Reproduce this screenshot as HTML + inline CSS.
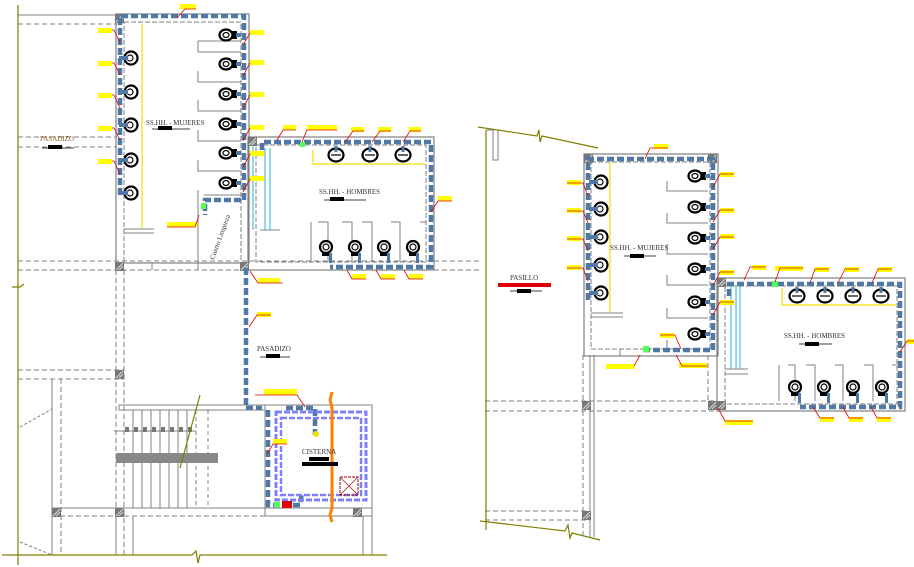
<!DOCTYPE html>
<html><head><meta charset="utf-8"><style>
html,body{margin:0;padding:0;background:#fff;}
svg{display:block;}
text{font-family:"Liberation Serif",serif;}
</style></head><body>
<svg width="914" height="567" viewBox="0 0 914 567" xmlns="http://www.w3.org/2000/svg">
<defs>
<g id="lav"><circle cx="0" cy="0" r="6.5" fill="#fff" stroke="#000" stroke-width="2.2"/><circle cx="-1" cy="0" r="3" fill="none" stroke="#000" stroke-width="1.2"/><rect x="-12" y="-2" width="9" height="4" fill="#4f79a4"/></g>
<g id="wc"><ellipse cx="0" cy="0" rx="6.5" ry="5.5" fill="#fff" stroke="#000" stroke-width="2.2"/><ellipse cx="0" cy="0" rx="3" ry="2.5" fill="none" stroke="#000" stroke-width="1.2"/><rect x="6" y="-4" width="5" height="8" fill="#000"/><rect x="10" y="-2" width="5" height="4" fill="#4f79a4"/></g>
<g id="sink"><ellipse cx="0" cy="0" rx="7.5" ry="6.5" fill="#fff" stroke="#000" stroke-width="2.2"/><line x1="-5" y1="0" x2="5" y2="0" stroke="#000" stroke-width="1.2"/><rect x="-1.5" y="-9" width="3" height="6" fill="#4f79a4"/></g>
<g id="uri"><circle cx="0" cy="0" r="6" fill="#fff" stroke="#000" stroke-width="2.2"/><circle cx="0" cy="0" r="3" fill="none" stroke="#000" stroke-width="1.2"/><rect x="-4" y="5" width="8" height="4" fill="#000"/><rect x="3" y="6" width="3" height="10" fill="#4f79a4"/></g>
<g id="hatch"><rect x="0" y="0" width="9" height="9" fill="#777"/><line x1="1" y1="8" x2="8" y2="1" stroke="#ddd"/><line x1="4" y1="8" x2="8" y2="4" stroke="#ddd"/></g>
</defs>

<!-- ================= LEFT PLAN ================= -->
<g fill="none" stroke="#808080" stroke-width="1">
<line x1="18" y1="15" x2="117" y2="15"/>
<line x1="18" y1="24" x2="117" y2="24" stroke-dasharray="5,3"/>
<line x1="18" y1="137" x2="117" y2="137" stroke-dasharray="5,3"/>
<line x1="18" y1="147" x2="117" y2="147" stroke-dasharray="5,3"/>
<line x1="18" y1="261" x2="480" y2="261" stroke-dasharray="5,3"/>
<line x1="18" y1="270" x2="480" y2="270" stroke-dasharray="5,3"/>
<line x1="18" y1="370" x2="124" y2="370" stroke-dasharray="5,3"/>
<line x1="18" y1="379" x2="124" y2="379" stroke-dasharray="5,3"/>
<line x1="116" y1="270" x2="116" y2="555" stroke-dasharray="5,3"/>
<line x1="124" y1="270" x2="124" y2="555" stroke-dasharray="5,3"/>
<line x1="52" y1="379" x2="52" y2="555"/>
<line x1="61" y1="379" x2="61" y2="555" stroke-dasharray="5,3"/>
<line x1="20" y1="427" x2="52" y2="409" stroke-dasharray="3,2"/>
<line x1="20" y1="542" x2="52" y2="555" stroke-dasharray="3,2"/>
<line x1="52" y1="508" x2="372" y2="508"/>
<line x1="52" y1="516" x2="372" y2="516" stroke-dasharray="5,3"/>
<line x1="133" y1="516" x2="133" y2="555"/><line x1="116" y1="516" x2="116" y2="555"/>
<line x1="363" y1="516" x2="363" y2="555"/><line x1="372" y1="516" x2="372" y2="555"/>
<rect x="119" y="405" width="146" height="5"/>
<rect x="265" y="405" width="107" height="111"/>
<line x1="114" y1="431" x2="196" y2="431"/>
<line x1="133" y1="410" x2="133" y2="508"/><line x1="142" y1="410" x2="142" y2="508"/><line x1="151" y1="410" x2="151" y2="508"/><line x1="160" y1="410" x2="160" y2="508"/><line x1="169" y1="410" x2="169" y2="508"/><line x1="178" y1="410" x2="178" y2="508"/><line x1="187" y1="410" x2="187" y2="508"/>
<line x1="196" y1="410" x2="196" y2="508" stroke-dasharray="4,3"/><line x1="208" y1="410" x2="208" y2="508" stroke-dasharray="4,3"/>
<rect x="116" y="14" width="133" height="249" stroke-width="1.2"/>
<rect x="124" y="22" width="117" height="241" stroke-dasharray="5,2"/>
<line x1="124" y1="229" x2="154" y2="229"/><line x1="124" y1="233" x2="154" y2="233"/>
<path d="M198 41 H241 M198 41 V52 H241 M198 71 V82 H241 M198 100 V111 H241 M198 130 V141 H241 M198 160 V171 H241"/>
<line x1="198" y1="190" x2="198" y2="262"/><line x1="204" y1="195" x2="241" y2="195"/>
<line x1="152" y1="262" x2="152" y2="270"/><line x1="198" y1="262" x2="198" y2="270"/>
<rect x="248" y="137" width="186" height="133" stroke-width="1.2"/>
<rect x="256" y="145" width="170" height="117" stroke-dasharray="5,2"/>
<line x1="260" y1="230" x2="280" y2="230"/>
<path d="M311 222 V262 M318 222 H328 V262 M342 222 H352 V262 M362 222 H372 V262 M391 222 H400 V262 M420 222 H426"/>
</g>
<g fill="#777"><rect x="125" y="427" width="4" height="5"/><rect x="134" y="427" width="4" height="5"/><rect x="143" y="427" width="4" height="5"/><rect x="152" y="427" width="4" height="5"/><rect x="161" y="427" width="4" height="5"/><rect x="170" y="427" width="4" height="5"/><rect x="179" y="427" width="4" height="5"/><rect x="188" y="427" width="4" height="5"/></g>
<line x1="253" y1="145" x2="253" y2="230" stroke="#2ab0e0"/><line x1="265" y1="148" x2="265" y2="230" stroke="#2ab0e0"/><line x1="270" y1="148" x2="270" y2="230" stroke="#2ab0e0"/>
<line x1="142" y1="24" x2="142" y2="228" stroke="#f0e000" stroke-width="1.2"/>
<polyline points="313,150 313,164 425,164" fill="none" stroke="#f0e000" stroke-width="1.2"/>
<use href="#hatch" x="115" y="262"/><use href="#hatch" x="240" y="262"/><use href="#hatch" x="248" y="137"/><use href="#hatch" x="115" y="370"/><use href="#hatch" x="52" y="508"/><use href="#hatch" x="115" y="508"/><use href="#hatch" x="353" y="508"/><use href="#hatch" x="115" y="14"/>
<rect x="116" y="453" width="102" height="10" fill="#888"/>
<g stroke="#808000" stroke-width="1.2" fill="none">
<line x1="18" y1="5" x2="18" y2="565"/>
<polyline points="12,287 20,287 24,284"/>
<polyline points="2,555 192,555 196,551 198,563 200,555 387,555"/>
<line x1="180" y1="468" x2="200" y2="395"/>
</g>
<g stroke="#4f79a4" stroke-width="4.5" fill="none" stroke-dasharray="7,3">
<polyline points="120,195 120,16 244,16 244,200 205,200 205,215"/>
<polyline points="262,150 262,142 431,142 431,267 330,267"/>
<polyline points="246,268 246,408 262,408"/>
<polyline points="268,410 268,505 300,505 302,492"/>
<polyline points="286,408 315,408 315,435"/>
</g>
<g stroke="#8080ff" stroke-width="3" fill="none" stroke-dasharray="6,2">
<rect x="276" y="412" width="90" height="88"/>
<rect x="281" y="418" width="80" height="77" stroke-width="2.5"/>
</g>
<polyline points="332,392 330,400 332,408 332,508 330,515 332,522" stroke="#ff8000" stroke-width="3" fill="none"/>
<rect x="340" y="477" width="18" height="18" fill="none" stroke="#a00000" stroke-dasharray="3,1"/>
<line x1="340" y1="477" x2="358" y2="495" stroke="#a00000" stroke-width="0.6"/><line x1="358" y1="477" x2="340" y2="495" stroke="#a00000" stroke-width="0.6"/>
<rect x="282" y="501" width="10" height="7" fill="#e00000"/><rect x="274" y="502" width="6" height="5" fill="#5f5"/>
<circle cx="316" cy="434" r="3" fill="#f0e000"/>
<rect x="300" y="142" width="5" height="5" fill="#5f5"/><rect x="201" y="203" width="5" height="6" fill="#5f5"/>
<use href="#lav" x="131" y="58"/><use href="#lav" x="131" y="92"/><use href="#lav" x="131" y="125"/><use href="#lav" x="131" y="160"/><use href="#lav" x="131" y="193"/>
<use href="#wc" x="226" y="35"/><use href="#wc" x="226" y="64"/><use href="#wc" x="226" y="94"/><use href="#wc" x="226" y="124"/><use href="#wc" x="226" y="153"/><use href="#wc" x="226" y="183"/>
<use href="#sink" x="336" y="155"/><use href="#sink" x="370" y="155"/><use href="#sink" x="403" y="155"/>
<use href="#uri" x="326" y="247"/><use href="#uri" x="355" y="247"/><use href="#uri" x="384" y="247"/><use href="#uri" x="413" y="247"/>
<g fill="#ffff00">
<rect x="180" y="4" width="16" height="5"/><rect x="98" y="28" width="14" height="5"/><rect x="98" y="61" width="14" height="5"/><rect x="98" y="93" width="14" height="5"/><rect x="98" y="126" width="14" height="5"/><rect x="98" y="159" width="14" height="5"/>
<rect x="250" y="30" width="14" height="5"/><rect x="250" y="60" width="14" height="5"/><rect x="250" y="92" width="14" height="5"/><rect x="250" y="125" width="14" height="5"/><rect x="250" y="151" width="14" height="5"/><rect x="250" y="176" width="14" height="5"/>
<rect x="283" y="125" width="13" height="5"/><rect x="307" y="125" width="30" height="5"/><rect x="351" y="127" width="13" height="5"/><rect x="378" y="127" width="13" height="5"/><rect x="409" y="127" width="12" height="5"/>
<rect x="438" y="196" width="14" height="5"/><rect x="167" y="222" width="30" height="5"/><rect x="258" y="278" width="22" height="5"/>
<rect x="352" y="274" width="14" height="5"/><rect x="381" y="274" width="14" height="5"/><rect x="409" y="274" width="14" height="5"/>
<rect x="257" y="312" width="14" height="5"/><rect x="264" y="389" width="33" height="6"/><rect x="273" y="439" width="14" height="5"/>
</g>
<g stroke="#e00000" stroke-width="0.8" fill="none">
<polyline points="196,9 185,9 177,18"/><polyline points="112,30 114,30 120,43"/><polyline points="112,63 114,63 120,75"/><polyline points="112,95 114,95 120,108"/><polyline points="112,128 114,128 120,140"/><polyline points="112,161 114,161 120,174"/>
<polyline points="250,33 243,45"/><polyline points="250,63 243,76"/><polyline points="250,95 243,108"/><polyline points="250,128 243,141"/><polyline points="250,154 243,167"/><polyline points="250,179 243,192"/>
<polyline points="296,130 283,130 277,140"/><polyline points="337,130 307,130 302,142"/><polyline points="364,131 353,131 345,142"/><polyline points="391,131 380,131 372,142"/><polyline points="421,131 410,131 403,142"/>
<polyline points="452,201 438,201 431,212"/><polyline points="167,227 195,227 199,215"/><polyline points="283,283 258,283 250,271"/>
<polyline points="347,270 352,279 366,279"/><polyline points="376,270 381,279 395,279"/><polyline points="404,270 409,279 423,279"/>
<polyline points="271,315 257,315 249,327"/><polyline points="255,395 297,395 305,407"/><polyline points="287,444 273,444 267,454"/>
</g>
<g font-size="7" fill="#333">
<text x="40" y="141" fill="#8a5a20">PASADIZO</text>
<text x="146" y="125">SS.HH. - MUJERES</text>
<text x="319" y="194">SS.HH. - HOMBRES</text>
<text x="257" y="351">PASADIZO</text>
<text x="302" y="454">CISTERNA</text>
<text x="214" y="260" transform="rotate(-70 214 260)">Cuarto Limpieza</text>
</g>
<g fill="#000"><rect x="48" y="145" width="14" height="4"/><rect x="158" y="126" width="14" height="4"/><rect x="330" y="197" width="14" height="4"/><rect x="266" y="354" width="14" height="4"/><rect x="309" y="457" width="20" height="4"/><rect x="302" y="462" width="36" height="4"/></g>
<g stroke="#000" stroke-width="0.8"><line x1="42" y1="148" x2="74" y2="148"/><line x1="152" y1="129" x2="190" y2="129"/><line x1="324" y1="200" x2="366" y2="200"/><line x1="260" y1="357" x2="290" y2="357"/></g>

<!-- ================= RIGHT PLAN ================= -->
<g fill="none" stroke="#808080" stroke-width="1">
<path d="M486 130 H493 V160 H498 V130"/>
<line x1="485" y1="401" x2="717" y2="401" stroke-dasharray="5,3"/>
<line x1="485" y1="411" x2="717" y2="411" stroke-dasharray="5,3"/>
<line x1="485" y1="511" x2="590" y2="511" stroke-dasharray="5,3"/>
<line x1="485" y1="520" x2="590" y2="520" stroke-dasharray="5,3"/>
<line x1="583" y1="355" x2="583" y2="537" stroke-dasharray="5,3"/>
<line x1="590" y1="355" x2="590" y2="537"/><line x1="594" y1="355" x2="594" y2="537"/>
<line x1="708" y1="355" x2="708" y2="401" stroke-dasharray="5,3"/><line x1="717" y1="355" x2="717" y2="401"/>
<rect x="584" y="154" width="134" height="202" stroke-width="1.2"/>
<rect x="591" y="162" width="119" height="187" stroke-dasharray="5,2"/>
<line x1="591" y1="313" x2="623" y2="313"/><line x1="591" y1="317" x2="623" y2="317"/>
<path d="M667 181 V191 H708 M667 213 V223 H708 M667 244 V254 H708 M667 275 V285 H708 M667 308 V318 H708 M667 340 V349 M620 349 V356"/>
<rect x="717" y="278" width="188" height="133" stroke-width="1.2"/>
<rect x="725" y="286" width="172" height="118" stroke-dasharray="5,2"/>
<line x1="725" y1="369" x2="748" y2="369"/><line x1="725" y1="374" x2="748" y2="374"/>
<path d="M779 365 V401 M788 365 H795 V401 M806 365 H815 V401 M835 365 H843 V401 M864 365 H873 V401 M892 365 H897"/>
</g>
<line x1="731" y1="286" x2="731" y2="369" stroke="#2ab0e0"/><line x1="736" y1="286" x2="736" y2="369" stroke="#2ab0e0"/><line x1="740" y1="286" x2="740" y2="369" stroke="#2ab0e0"/>
<line x1="610" y1="162" x2="610" y2="312" stroke="#f0e000" stroke-width="1.2"/>
<polyline points="782,288 782,305 896,305" fill="none" stroke="#f0e000" stroke-width="1.2"/>
<use href="#hatch" x="584" y="154"/><use href="#hatch" x="708" y="154"/><use href="#hatch" x="582" y="401"/><use href="#hatch" x="708" y="401"/><use href="#hatch" x="717" y="401"/><use href="#hatch" x="717" y="278"/><use href="#hatch" x="582" y="511"/>
<g stroke="#808000" stroke-width="1.2" fill="none">
<polyline points="478,127 537,136 539,130 540,142 542,136 598,148"/>
<line x1="486" y1="130" x2="486" y2="530"/>
<polyline points="480,521 565,531 568,525 570,538 572,533 600,540"/>
</g>
<g stroke="#4f79a4" stroke-width="4.5" fill="none" stroke-dasharray="7,3">
<polyline points="588,300 588,159 713,159 713,350 640,350"/>
<polyline points="729,296 729,284 900,284 900,407 800,407"/>
</g>
<rect x="643" y="346" width="6" height="6" fill="#5f5"/><rect x="772" y="281" width="6" height="6" fill="#5f5"/>
<use href="#lav" x="601" y="182"/><use href="#lav" x="601" y="209"/><use href="#lav" x="601" y="237"/><use href="#lav" x="601" y="265"/><use href="#lav" x="601" y="293"/>
<use href="#wc" x="695" y="176"/><use href="#wc" x="695" y="207"/><use href="#wc" x="695" y="238"/><use href="#wc" x="695" y="269"/><use href="#wc" x="695" y="302"/><use href="#wc" x="695" y="334"/>
<use href="#sink" x="797" y="296"/><use href="#sink" x="825" y="296"/><use href="#sink" x="853" y="296"/><use href="#sink" x="881" y="296"/>
<use href="#uri" x="795" y="387"/><use href="#uri" x="824" y="387"/><use href="#uri" x="853" y="387"/><use href="#uri" x="882" y="387"/>
<g fill="#ffff00">
<rect x="654" y="144" width="14" height="5"/><rect x="567" y="180" width="14" height="5"/><rect x="567" y="208" width="14" height="5"/><rect x="567" y="236" width="14" height="5"/><rect x="567" y="265" width="14" height="5"/>
<rect x="720" y="172" width="14" height="5"/><rect x="720" y="208" width="14" height="5"/><rect x="720" y="234" width="14" height="5"/><rect x="720" y="270" width="14" height="5"/><rect x="720" y="300" width="14" height="5"/>
<rect x="660" y="333" width="14" height="5"/><rect x="606" y="364" width="28" height="5"/><rect x="679" y="363" width="28" height="5"/>
<rect x="752" y="265" width="14" height="5"/><rect x="775" y="266" width="28" height="5"/><rect x="815" y="267" width="14" height="5"/><rect x="845" y="267" width="14" height="5"/><rect x="878" y="267" width="14" height="5"/>
<rect x="907" y="339" width="7" height="5"/><rect x="725" y="420" width="28" height="5"/><rect x="820" y="417" width="14" height="5"/><rect x="849" y="417" width="14" height="5"/><rect x="877" y="417" width="14" height="5"/>
</g>
<rect x="498" y="283" width="53" height="4" fill="#e00000"/>
<g stroke="#e00000" stroke-width="0.8" fill="none">
<polyline points="668,148 650,148 645,159"/><polyline points="567,183 583,183 588,196"/><polyline points="567,211 583,211 588,223"/><polyline points="567,239 583,239 588,251"/><polyline points="567,268 583,268 588,281"/>
<polyline points="734,174 720,174 713,187"/><polyline points="734,210 720,210 713,222"/><polyline points="734,237 720,237 713,249"/><polyline points="734,272 720,272 713,286"/><polyline points="734,302 720,302 713,315"/>
<polyline points="660,335 675,335 681,349"/><polyline points="634,366 634,366 640,355"/><polyline points="707,366 682,366 676,355"/>
<polyline points="766,267 750,267 744,280"/><polyline points="803,268 780,268 775,282"/><polyline points="829,269 815,269 810,283"/><polyline points="859,269 845,269 838,283"/><polyline points="892,269 878,269 872,283"/>
<polyline points="914,341 907,341 900,352"/><polyline points="753,421 725,421 718,408"/><polyline points="834,418 820,418 813,407"/><polyline points="863,418 849,418 843,407"/><polyline points="891,418 877,418 871,407"/>
</g>
<g font-size="7" fill="#333">
<text x="510" y="280">PASILLO</text>
<text x="610" y="250">SS.HH. - MUJERES</text>
<text x="784" y="338">SS.HH. - HOMBRES</text>
</g>
<g fill="#000"><rect x="517" y="289" width="14" height="4"/><rect x="630" y="254" width="14" height="4"/><rect x="805" y="342" width="14" height="4"/></g>
<g stroke="#000" stroke-width="0.8"><line x1="510" y1="291" x2="542" y2="291"/><line x1="624" y1="256" x2="656" y2="256"/><line x1="799" y1="344" x2="832" y2="344"/></g>
</svg>
</body></html>
